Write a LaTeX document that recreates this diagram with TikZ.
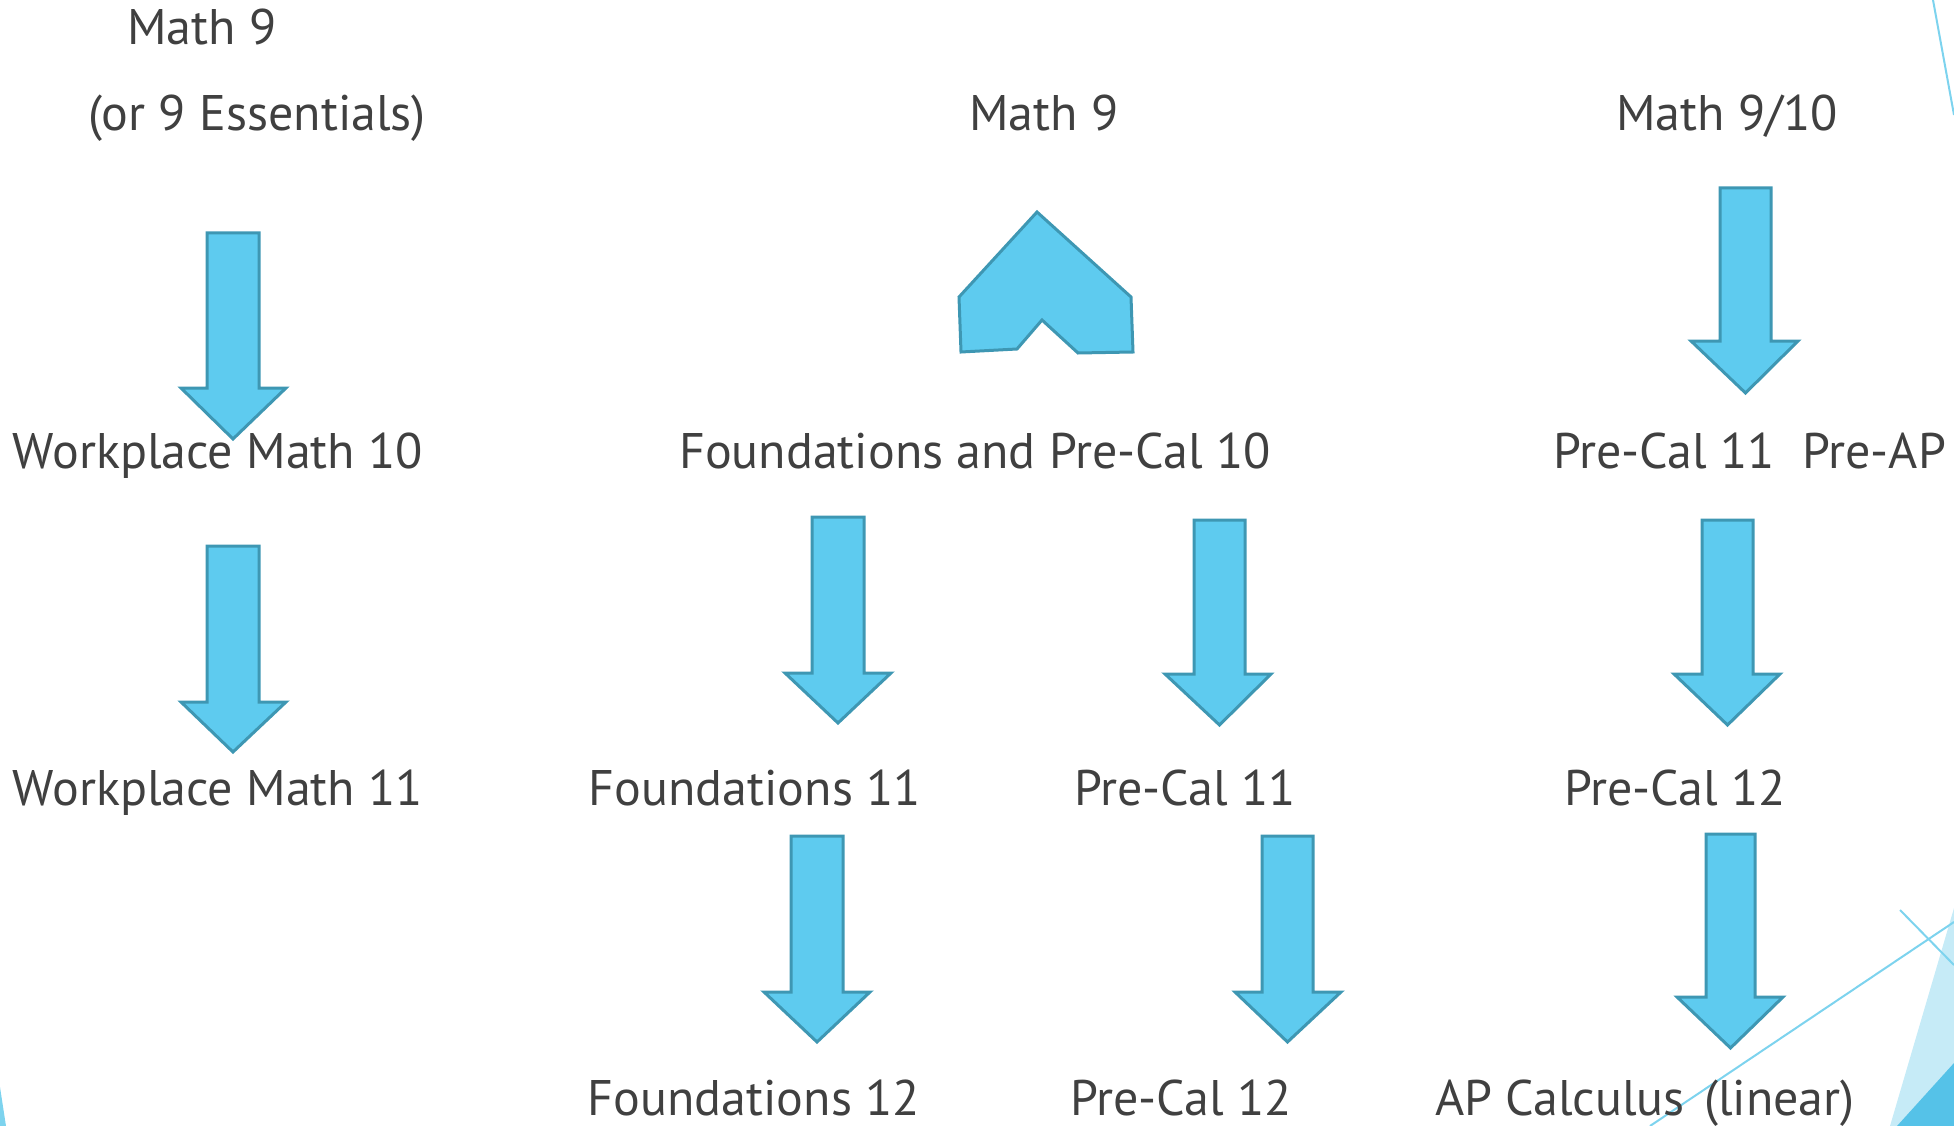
\documentclass[tikz,border=0pt]{standalone}
\usepackage{fontspec}
\setmainfont{PT Sans}
\definecolor{arrfill}{HTML}{5ECBEF}
\definecolor{arrline}{HTML}{3E97B3}
\definecolor{txt}{HTML}{404040}
\definecolor{deco}{HTML}{7DD3EE}
\definecolor{decolight}{HTML}{C6EBF7}
\definecolor{decodark}{HTML}{55C2E8}
\tikzset{
  lbl/.style={anchor=base, inner sep=0pt, text=txt, font=\fontsize{50}{58}\selectfont},
  blk/.style={fill=arrfill, draw=arrline, line width=3pt, line join=miter},
  decoline/.style={draw=deco, line width=2pt}
}
% \darr{shaft left}{shaft right}{top}{head left}{head right}{head y}{tip y}
\newcommand\darr[7]{%
  \path[blk] (#1,#3) -- (#2,#3) -- (#2,#6) -- (#5,#6) -- ({(#1+#2)/2},#7) -- (#4,#6) -- (#1,#6) -- cycle;}
\begin{document}
\begin{tikzpicture}[x=1pt,y=-1pt]
\useasboundingbox (0,0) rectangle (1954,1126);
% decorations
\fill[decolight] (1890,1126) -- (1954,908) -- (1954,1126) -- cycle;
\fill[decodark] (1897,1126) -- (1954,1063) -- (1954,1126) -- cycle;
\draw[decoline] (1900,910) -- (1954,965);
\draw[decoline] (1650,1126) -- (1954,922);
\draw[decoline] (1933,0) -- (1954,115);
\fill[deco] (0,1087) -- (6,1126) -- (0,1126) -- cycle;
% texts
\node[lbl] (m9a) at (202,45) {Math 9};
\node[lbl] (ess) at (257,131) {(or 9 Essentials)};
\node[lbl] (m9b) at (1044,131) {Math 9};
\node[lbl] (m910) at (1727,131) {Math 9/10};
\node[lbl] (wm10) at (218,468) {Workplace Math 10};
\node[lbl] (fpc10) at (975,468) {Foundations and Pre-Cal 10};
\node[lbl, anchor=base west] (pc11ap) at (1553,468) {Pre-Cal 11\hspace{0.55em}Pre-AP};
\node[lbl] (wm11) at (218,805) {Workplace Math 11};
\node[lbl] (f11) at (755,805) {Foundations 11};
\node[lbl] (pc11) at (1185,805) {Pre-Cal 11};
\node[lbl] (pc12r) at (1675,805) {Pre-Cal 12};
\node[lbl] (f12) at (754,1115) {Foundations 12};
\node[lbl] (pc12) at (1181,1115) {Pre-Cal 12};
\node[lbl] (apc) at (1645,1115) {AP Calculus\hspace{0.12em} (linear)};
% arrows
\darr{207}{259}{233}{181}{286}{388}{439}
\darr{207}{259}{546}{181}{286}{702}{752}
\darr{812}{864}{517}{785}{891}{673}{723}
\darr{1194}{1245}{520}{1165}{1271}{674}{725}
\darr{1720}{1771}{188}{1691}{1798}{341}{393}
\darr{1702}{1753}{520}{1674}{1780}{674}{725}
\darr{791}{843}{836}{764}{870}{992}{1042}
\darr{1262}{1313}{836}{1235}{1341}{992}{1042}
\darr{1706}{1755}{834}{1677}{1783}{997}{1048}
% odd shape
\path[blk] (1037,212) -- (1131,297) -- (1133,352) -- (1078,353) -- (1042,320) -- (1017,349) -- (961,352) -- (959,297) -- cycle;
\end{tikzpicture}
\end{document}
